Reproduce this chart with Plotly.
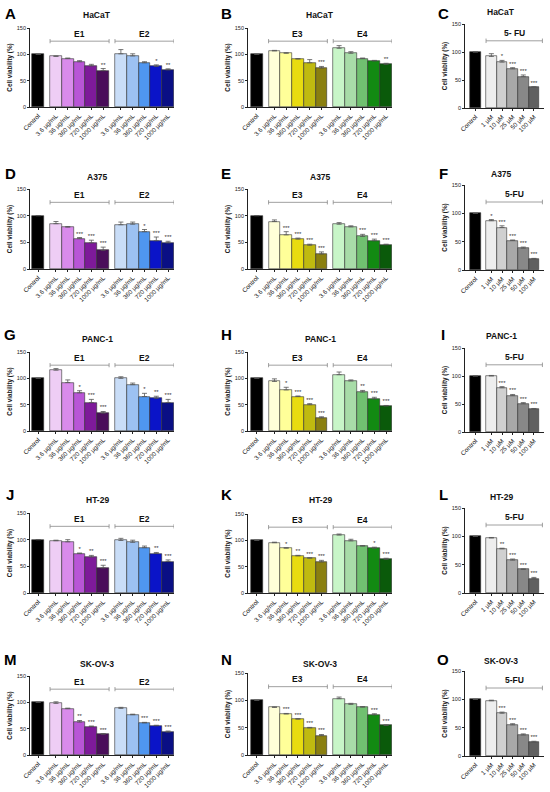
import plotly.graph_objects as go

W, H = 550, 792
FONT = 'Liberation Sans, Arial, sans-serif'

# tick labels
LABELS_EXT = ['Control', '3.6 µg/mL', '36 µg/mL', '360 µg/mL', '720 µg/mL', '1000 µg/mL',
              '3.6 µg/mL', '36 µg/mL', '360 µg/mL', '720 µg/mL', '1000 µg/mL']
LABELS_FU = ['Control', '1 µM', '10 µM', '25 µM', '50 µM', '100 µM']

# bar colours
COL_CTRL = '#000000'
COL_E1 = ['#EECDF5', '#D98BEB', '#B855D6', '#7E1A9A', '#4A0E5A']
COL_E2 = ['#C9DDF7', '#9CC1F2', '#4F96F0', '#0A14C8', '#0A0F85']
COL_E3 = ['#FFFFD8', '#FFFF99', '#E8DC10', '#C0BA10', '#8A7F10']
COL_E4 = ['#C8F5C8', '#A8DCA8', '#70C070', '#128A12', '#0A5A0A']
COL_FU = ['#EEEEEE', '#D0D0D0', '#A8A8A8', '#888888', '#606060']

# values (% viability), errors (SD) and significance per panel
A_VAL = [100, 96, 92, 86, 78, 69, 101, 97, 84, 77, 70.5]
A_ERR = [0, 1, 1, 2, 3, 4, 8, 4, 2, 3, 2]
A_SIG = ['', '', '', '', '', '**', '', '', '', '*', '**']

B_VAL = [100, 106.5, 102, 91, 84, 74, 111.5, 102, 92, 87.5, 81]
B_ERR = [0, 1, 1, 1, 6, 3, 5, 3, 1, 1, 2]
B_SIG = ['', '', '', '', '', '***', '', '', '', '', '**']

C_VAL = [100, 92, 82, 70, 56, 37]
C_ERR = [0, 5, 3, 2, 3, 1]
C_SIG = ['', '', '*', '***', '***', '***']

D_VAL = [100, 85, 78.5, 57, 49, 35, 83, 84, 70, 53, 49]
D_ERR = [0, 4, 1, 2, 5, 6, 5, 4, 4, 7, 3]
D_SIG = ['', '', '', '***', '***', '***', '', '', '*', '***', '***']

E_VAL = [100, 89, 64, 56, 44.5, 28, 84, 79, 61, 53, 45.5]
E_ERR = [0, 3, 6, 2, 2, 4, 3, 2, 4, 3, 1]
E_SIG = ['', '', '***', '***', '***', '***', '', '', '***', '***', '***']

F_VAL = [100, 87, 75, 52, 38.5, 19.5]
F_ERR = [0, 2, 3, 1, 2, 1]
F_SIG = ['', '*', '***', '***', '***', '***']

G_VAL = [100, 115.5, 92, 72.5, 54, 34, 100, 88, 65.5, 62, 54]
G_ERR = [0, 3, 5, 4, 6, 3, 3, 3, 6, 4, 6]
G_SIG = ['', '', '', '*', '***', '***', '', '', '*', '**', '***']

H_VAL = [100, 94, 78, 65.5, 50, 25, 107, 95, 74, 61, 47.5]
H_ERR = [0, 5, 5, 1, 2, 2, 5, 2, 3, 3, 1]
H_SIG = ['', '', '*', '***', '***', '***', '', '', '**', '***', '***']

I_VAL = [100, 100, 79, 65, 50.5, 41]
I_ERR = [0, 1, 2, 2, 2, 1]
I_SIG = ['', '', '***', '***', '***', '***']

J_VAL = [100, 98, 96, 74, 67.5, 47, 98.5, 95, 85, 74, 59]
J_ERR = [0, 1, 4, 1, 3, 5, 4, 4, 3, 2, 3]
J_SIG = ['', '', '', '*', '**', '***', '', '', '', '**', '***']

K_VAL = [100, 95.5, 85, 70.5, 66, 59, 110, 99, 89, 85, 64]
K_ERR = [0, 1, 1, 1, 1, 3, 2, 3, 1, 2, 2]
K_SIG = ['', '', '*', '**', '***', '***', '', '', '', '*', '***']

L_VAL = [100, 97, 78, 58, 41.5, 25.5]
L_ERR = [0, 1, 1, 2, 1, 2]
L_SIG = ['', '', '**', '***', '***', '***']

M_VAL = [100, 98, 88, 62.5, 54, 39.5, 88.5, 76.5, 61, 55.5, 43.5]
M_ERR = [0, 3, 1, 3, 1, 1, 2, 1, 1, 1, 2]
M_SIG = ['', '', '', '**', '***', '***', '', '', '***', '***', '***']

N_VAL = [100, 87, 75, 65.5, 49.5, 35.5, 103, 92.5, 87.5, 73.5, 54]
N_ERR = [0, 1, 1, 1, 1, 2, 3, 2, 1, 2, 1]
N_SIG = ['', '', '***', '***', '***', '***', '', '', '', '***', '***']

O_VAL = [100, 97.5, 75.5, 55, 37, 24]
O_ERR = [0, 1, 2, 2, 2, 2]
O_SIG = ['', '', '***', '***', '***', '***']

CELL_LINES = ['HaCaT', 'A375', 'PANC-1', 'HT-29', 'SK-OV-3']

PANELS = [
    ('A', A_VAL, A_ERR, A_SIG, ['E1', 'E2']),
    ('B', B_VAL, B_ERR, B_SIG, ['E3', 'E4']),
    ('C', C_VAL, C_ERR, C_SIG, ['5- FU']),
    ('D', D_VAL, D_ERR, D_SIG, ['E1', 'E2']),
    ('E', E_VAL, E_ERR, E_SIG, ['E3', 'E4']),
    ('F', F_VAL, F_ERR, F_SIG, ['5-FU']),
    ('G', G_VAL, G_ERR, G_SIG, ['E1', 'E2']),
    ('H', H_VAL, H_ERR, H_SIG, ['E3', 'E4']),
    ('I', I_VAL, I_ERR, I_SIG, ['5-FU']),
    ('J', J_VAL, J_ERR, J_SIG, ['E1', 'E2']),
    ('K', K_VAL, K_ERR, K_SIG, ['E3', 'E4']),
    ('L', L_VAL, L_ERR, L_SIG, ['5-FU']),
    ('M', M_VAL, M_ERR, M_SIG, ['E1', 'E2']),
    ('N', N_VAL, N_ERR, N_SIG, ['E3', 'E4']),
    ('O', O_VAL, O_ERR, O_SIG, ['5-FU']),
]

GROUP_COLORS = {'E1': COL_E1, 'E2': COL_E2, 'E3': COL_E3, 'E4': COL_E4,
                '5-FU': COL_FU, '5- FU': COL_FU}

# layout in pixels: plot top (y=150) / bottom (y=0) per row and column
TOPS = [[28, 28, 24], [189, 189, 185], [352, 352, 348], [513, 514, 508], [676, 673, 671]]
BOTS = [[107, 107, 108], [269, 269, 270], [431, 431, 432], [593, 593, 593], [755, 755, 756]]
COL_X = [(30, 174), (248, 392), (465, 544)]
X_RANGE = [(-0.7, 11.5), (-0.75, 11.5), (-0.98, 6.45)]
LETTER_X = [10, 226, 443]
LETTER_Y = [14, 173, 334, 494, 659]
TITLE_X = [97, 320, 501]
TITLE_Y = [15, 177, 339, 500, 664]

fig = go.Figure()
annotations = []
shapes = []

for i, (letter, vals, errs, sigs, groups) in enumerate(PANELS):
    r, c = divmod(i, 3)
    n = i + 1
    xa = 'x' if n == 1 else f'x{n}'
    ya = 'y' if n == 1 else f'y{n}'
    suffix = '' if n == 1 else str(n)

    # bar positions: control, then groups of 5 with a gap
    pos = [0.0]
    colors = [COL_CTRL]
    for g, name in enumerate(groups):
        start = 1.5 + g * 5.5
        pos += [start + k for k in range(5)]
        colors += GROUP_COLORS[name]
    labels = LABELS_FU if len(groups) == 1 else LABELS_EXT

    fig.add_trace(go.Bar(
        x=pos, y=vals, width=1.0,
        marker=dict(color=colors, line=dict(color='#333333', width=0.6)),
        error_y=dict(type='data', symmetric=False, array=errs,
                     arrayminus=[0] * len(errs), color='#555555',
                     thickness=0.8, width=2.5),
        xaxis=xa, yaxis=ya, showlegend=False,
    ))
    fig.add_trace(go.Scatter(
        x=pos, y=[v + e + 1 for v, e in zip(vals, errs)], text=sigs,
        mode='text', textposition='top center',
        textfont=dict(size=6, color='#333333', family=FONT),
        xaxis=xa, yaxis=ya, showlegend=False,
    ))

    top = TOPS[r][c]
    bot = BOTS[r][c]
    x0, x1 = COL_X[c]
    fig.update_layout({
        f'xaxis{suffix}': dict(
            domain=[x0 / W, x1 / W], range=list(X_RANGE[c]), anchor=ya,
            tickvals=pos, ticktext=labels, tickangle=-45,
            tickfont=dict(size=6.3, color='#111111', family=FONT),
            ticks='outside', ticklen=2, tickwidth=0.8, tickcolor='#222222',
            showline=True, linecolor='#222222', linewidth=0.8,
            showgrid=False, zeroline=False, automargin=False, fixedrange=True,
        ),
        f'yaxis{suffix}': dict(
            domain=[1 - bot / H, 1 - top / H], range=[0, 150], anchor=xa,
            tickvals=[0, 50, 100, 150],
            tickfont=dict(size=5.5, color='#222222', family=FONT),
            ticks='outside', ticklen=2, tickwidth=0.8, tickcolor='#222222',
            showline=True, linecolor='#222222', linewidth=0.8,
            showgrid=False, zeroline=False, automargin=False,
            title=dict(text='<b>Cell viability (%)</b>', standoff=3,
                       font=dict(size=6.3, color='#222222', family=FONT)),
        ),
    })

    # group brackets
    by, bl = (120, 134) if c == 2 else (125, 139)
    for g, name in enumerate(groups):
        gx0 = 1.5 + g * 5.5 - 0.5
        gx1 = 6.3 if c == 2 else gx0 + 5.0
        line = dict(color='#888888', width=0.8)
        shapes.append(dict(type='line', xref=xa, yref=ya, x0=gx0, x1=gx1, y0=by, y1=by, line=line))
        for gx in (gx0, gx1):
            shapes.append(dict(type='line', xref=xa, yref=ya, x0=gx, x1=gx, y0=by - 4, y1=by + 4, line=line))
        annotations.append(dict(
            x=(gx0 + gx1) / 2, y=bl, xref=xa, yref=ya, text=f'<b>{name}</b>',
            showarrow=False, font=dict(size=8.5, color='#111111', family=FONT),
        ))

    # panel letter and title
    dy = -3 if c == 2 else 0
    annotations.append(dict(
        x=LETTER_X[c] / W, y=1 - LETTER_Y[r] / H, xref='paper', yref='paper',
        text=f'<b>{letter}</b>', showarrow=False, xanchor='center', yanchor='middle',
        font=dict(size=15, color='#000000', family=FONT),
    ))
    annotations.append(dict(
        x=TITLE_X[c] / W, y=1 - (TITLE_Y[r] + dy) / H, xref='paper', yref='paper',
        text=f'<b>{CELL_LINES[r]}</b>', showarrow=False, xanchor='center', yanchor='middle',
        font=dict(size=8.5, color='#111111', family=FONT),
    ))

fig.update_layout(
    width=W, height=H,
    margin=dict(l=0, r=0, t=0, b=0),
    paper_bgcolor='white', plot_bgcolor='white',
    font=dict(family=FONT),
    bargap=0, showlegend=False,
    annotations=annotations, shapes=shapes,
)

# page has a default body margin; drop it so the 550x792 figure fits the window
fig.write_html('out.html', config={'displayModeBar': False},
               post_script="document.body.style.margin='0';")
